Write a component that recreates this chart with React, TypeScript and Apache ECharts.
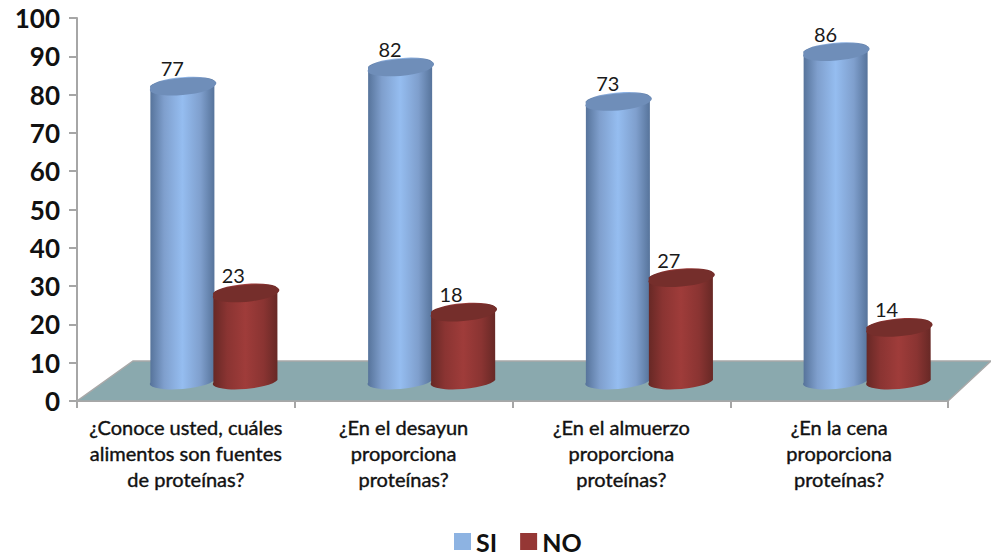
import React, { useEffect, useRef } from "react";
import * as echarts from "echarts";

const categories = [
  "¿Conoce usted, cuáles\nalimentos son fuentes\nde proteínas?",
  "¿En el desayun\nproporciona\nproteínas?",
  "¿En el almuerzo\nproporciona\nproteínas?",
  "¿En la cena\nproporciona\nproteínas?",
];
const siValues = [77, 82, 73, 86];
const noValues = [23, 18, 27, 14];
const fontFamily = "Lato, 'Noto Sans', sans-serif";

// Depth of the fake 3D floor, in pixels
const DEPTH_X = 56;
const DEPTH_Y = 40;
const RADIUS = 32;
const RY = 7.5;
const TILT = 2.5;

type Palette = { edge: string; mid: string; center: string; top: string };
const bluePalette: Palette = { edge: "#557299", mid: "#7f9fcd", center: "#95bdf0", top: "#6f8eb9" };
const redPalette: Palette = { edge: "#662825", mid: "#8a3432", center: "#9f3c3a", top: "#752e2b" };

// A cylinder standing on the floor, with its value label just above the cap
const cylinder = (offset: number, palette: Palette, labelDx: number) => (_params: any, api: any) => {
  const value = api.value(1);
  const [x, y] = api.coord([api.value(0), value]);
  const cx = x + DEPTH_X / 2 + offset;
  const ty = y - 20;
  const by = api.coord([api.value(0), 0])[1] - 21;
  const l = cx - RADIUS;
  const r = cx + RADIUS;
  const arc = `A ${RADIUS} ${RY} -4.5 0 0`;
  const body = `M ${l} ${ty + TILT} L ${l} ${by + TILT} ${arc} ${r} ${by - TILT} L ${r} ${ty - TILT} ${arc} ${l} ${ty + TILT} Z`;
  const cap = `M ${l} ${ty + TILT} ${arc} ${r} ${ty - TILT} ${arc} ${l} ${ty + TILT} Z`;
  return {
    type: "group",
    children: [
      {
        type: "path",
        shape: { pathData: body },
        style: {
          fill: new echarts.graphic.LinearGradient(0, 0, 1, 0, [
            { offset: 0, color: palette.edge },
            { offset: 0.22, color: palette.mid },
            { offset: 0.5, color: palette.center },
            { offset: 0.78, color: palette.mid },
            { offset: 1, color: palette.edge },
          ]),
        },
      },
      {
        type: "path",
        shape: { pathData: cap },
        style: { fill: palette.top },
      },
      {
        type: "text",
        style: {
          x: cx + labelDx,
          y: ty - 18,
          text: String(value),
          fill: "#1a1a1a",
          font: `20px ${fontFamily}`,
          align: "center",
          verticalAlign: "middle",
        },
      },
    ],
  };
};

// Parallelogram floor behind the bars, projected from the plot rectangle
const floor = (params: any) => {
  const { x, y, width, height } = params.coordSys;
  const b = y + height;
  return {
    type: "polygon",
    shape: {
      points: [
        [x, b],
        [x + width, b],
        [x + width + 43, b - DEPTH_Y],
        [x + DEPTH_X, b - DEPTH_Y],
      ],
    },
    style: { fill: "#8aa9ae", stroke: "#a8a8a8", lineWidth: 1.5 },
  };
};

export default function App() {
  const ref = useRef<HTMLDivElement>(null);
  useEffect(() => {
    const chart = echarts.init(ref.current!, undefined, { renderer: "svg" });
    chart.setOption({
      animation: false,
      backgroundColor: "#ffffff",
      grid: { left: 77, top: 18, width: 871, height: 383, containLabel: false },
      legend: {
        data: ["SI", "NO"],
        left: 449,
        top: 524,
        itemWidth: 17,
        itemHeight: 17,
        itemGap: 23,
        icon: "rect",
        textStyle: { fontFamily, fontWeight: "bold", fontSize: 25, color: "#111" },
      },
      xAxis: {
        type: "category",
        data: categories,
        axisLine: { lineStyle: { color: "#a6a6a6", width: 2 } },
        axisTick: { show: true, length: 7, alignWithLabel: false, lineStyle: { color: "#a6a6a6", width: 2 } },
        axisLabel: {
          interval: 0,
          margin: 13,
          fontFamily,
          fontSize: 20,
          fontWeight: "normal",
          lineHeight: 26,
          color: "#111",
          textBorderColor: "#111",
          textBorderWidth: 0.4,
        },
      },
      yAxis: {
        type: "value",
        min: 0,
        max: 100,
        interval: 10,
        splitLine: { show: false },
        axisLine: { show: true, lineStyle: { color: "#a6a6a6", width: 2 } },
        axisTick: { show: true, length: 8, lineStyle: { color: "#a6a6a6", width: 2 } },
        axisLabel: { margin: 17, fontFamily, fontSize: 26, fontWeight: "bold", color: "#111" },
      },
      series: [
        {
          type: "custom",
          name: "floor",
          silent: true,
          clip: false,
          z: 1,
          data: [[0, 0]],
          renderItem: floor,
        },
        {
          type: "custom",
          name: "SI",
          clip: false,
          z: 2,
          itemStyle: { color: "#8db3e2" },
          encode: { x: 0, y: 1 },
          data: siValues.map((v, i) => [i, v]),
          renderItem: cylinder(-31.5, bluePalette, -10),
        },
        {
          type: "custom",
          name: "NO",
          clip: false,
          z: 3,
          itemStyle: { color: "#953735" },
          encode: { x: 0, y: 1 },
          data: noValues.map((v, i) => [i, v]),
          renderItem: cylinder(31.5, redPalette, -12),
        },
      ],
    });
    return () => chart.dispose();
  }, []);
  return <div ref={ref} style={{ position: "fixed", left: 0, top: 0, width: 991, height: 557 }} />;
}
